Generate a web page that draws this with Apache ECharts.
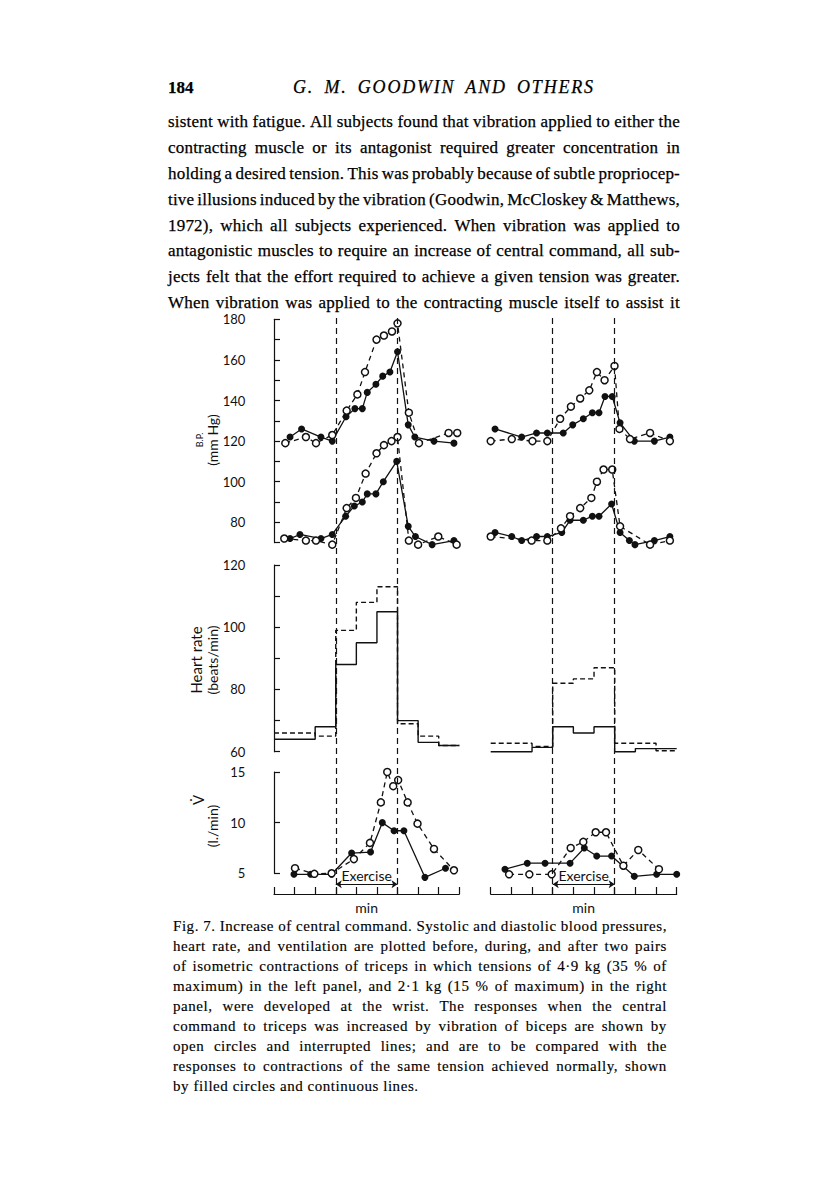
<!DOCTYPE html>
<html>
<head>
<meta charset="utf-8">
<script src="https://cdn.jsdelivr.net/npm/echarts@6/dist/echarts.min.js"></script>
<style>
  html, body { margin: 0; padding: 0; background: #fff; }
  #page { position: relative; width: 816px; height: 1190px; overflow: hidden; background: #fff; }
  #chart { position: absolute; left: 0; top: 0; width: 816px; height: 1190px; }
  .ln { position: absolute; display: flex; justify-content: space-between; white-space: nowrap;
        color: #000; font-family: "Liberation Serif", "Times New Roman", serif;
        -webkit-text-stroke: 0.25px #000; }
</style>
</head>
<body>
<div id="page">
  <div id="chart"></div>
  <div id="text"></div>
</div>
<script>
// page text
const pageNumber = '184'
const runningHead = 'G. M. GOODWIN AND OTHERS'
const bodyLines = [
  'sistent with fatigue. All subjects found that vibration applied to either the',
  'contracting muscle or its antagonist required greater concentration in',
  'holding a desired tension. This was probably because of subtle propriocep-',
  'tive illusions induced by the vibration (Goodwin, McCloskey & Matthews,',
  '1972), which all subjects experienced. When vibration was applied to',
  'antagonistic muscles to require an increase of central command, all sub-',
  'jects felt that the effort required to achieve a given tension was greater.',
  'When vibration was applied to the contracting muscle itself to assist it',
]
const captionLines = [
  'Fig. 7. Increase of central command. Systolic and diastolic blood pressures,',
  'heart rate, and ventilation are plotted before, during, and after two pairs',
  'of isometric contractions of triceps in which tensions of 4·9 kg (35 % of',
  'maximum) in the left panel, and 2·1 kg (15 % of maximum) in the right',
  'panel, were developed at the wrist. The responses when the central',
  'command to triceps was increased by vibration of biceps are shown by',
  'open circles and interrupted lines; and are to be compared with the',
  'responses to contractions of the same tension achieved normally, shown',
  'by filled circles and continuous lines.',
]

// x = minutes from start of record, exercise from 3 to 6 min
const exercise = [3, 6]

// left panel, B.P. (mm Hg)
const lSysFilledX = [0.78, 1.34, 2.28, 2.83, 3.5, 3.93, 4.29, 4.53, 4.95, 5.28, 5.63, 6.0, 6.52, 6.84, 7.77, 8.74]
const lSysFilledY = [122, 126, 122, 120, 132, 136, 136, 144, 148, 152, 154, 164, 128, 122, 120, 119]
const lSysOpenX = [0.55, 1.55, 2.04, 2.83, 3.53, 4.05, 4.42, 4.98, 5.34, 5.73, 6.0, 6.55, 7.04, 8.48, 8.9]
const lSysOpenY = [119, 122, 119, 123, 135, 143, 154, 170, 172, 174, 178, 134, 119, 124, 124]
const lDiaFilledX = [0.78, 1.26, 2.28, 2.83, 3.48, 3.9, 4.29, 4.53, 4.95, 5.31, 5.96, 6.52, 6.87, 7.68, 8.74]
const lDiaFilledY = [72, 74, 72, 74, 83, 88, 90, 94, 94, 100, 110, 78, 73, 69, 71]
const lDiaOpenX = [0.5, 1.55, 2.04, 2.83, 3.53, 3.98, 4.45, 4.98, 5.34, 5.71, 6.0, 6.55, 7.0, 7.98, 8.87]
const lDiaOpenY = [72, 71, 71, 69, 87, 92, 104, 114, 118, 120, 122, 71, 69, 73, 69]

// right panel, B.P.
const rSysFilledX = [0.21, 1.5, 2.22, 2.74, 3.51, 3.97, 4.48, 4.92, 5.24, 5.53, 5.88, 6.26, 6.95, 7.92, 8.67]
const rSysFilledY = [126, 122, 124, 124, 124, 128, 131, 134, 134, 142, 142, 129, 120, 120, 122]
const rSysOpenX = [0.0, 1.02, 2.02, 2.74, 3.36, 3.88, 4.33, 4.77, 5.14, 5.51, 5.99, 6.23, 6.74, 7.71, 8.67]
const rSysOpenY = [120, 121, 120, 120, 131, 137, 141, 145, 154, 150, 157, 126, 121, 124, 120]
const rDiaFilledX = [0.21, 1.02, 1.5, 2.22, 2.74, 3.44, 3.84, 4.48, 4.92, 5.24, 5.85, 6.26, 6.71, 6.98, 7.92, 8.67]
const rDiaFilledY = [75, 73, 71, 73, 73, 75, 81, 81, 83, 83, 89, 75, 71, 69, 71, 73]
const rDiaOpenX = [0.0, 1.98, 2.74, 3.4, 3.84, 4.33, 4.87, 5.14, 5.46, 5.88, 6.26, 7.71, 8.67]
const rDiaOpenY = [73, 71, 71, 77, 83, 87, 92, 100, 106, 106, 78, 69, 71]

// heart rate (beats/min), one value per interval between edges
const hrEdges = [0, 2, 3, 4, 5, 6, 7, 8, 9]
const lHrSolid = [64, 68, 88, 95, 105, 70, 63, 62]
const lHrDashed = [66, 65, 99, 108, 113, 69, 65, 62]
const rHrSolid = [60, 61.4, 68, 66, 68, 60, 61, 61]
const rHrDashed = [62.7, 61.7, 82, 83.4, 87, 62.7, 62.7, 60.3]

// ventilation (l./min)
const lVFilledX = [0.97, 1.78, 2.8, 3.77, 4.69, 5.26, 5.83, 6.31, 7.33, 8.33]
const lVFilledY = [4.9, 4.9, 4.9, 7.0, 7.1, 10.0, 9.2, 9.2, 4.6, 5.5]
const lVOpenX = [1.02, 1.96, 2.8, 3.88, 4.66, 5.19, 5.5, 5.79, 6.03, 6.49, 6.97, 7.77, 8.74]
const lVOpenY = [5.5, 4.95, 5.0, 6.4, 8.0, 12.0, 15.0, 13.6, 14.2, 12.0, 9.9, 7.4, 5.3]
const rVFilledX = [0.69, 1.77, 2.63, 3.84, 4.53, 5.13, 5.85, 6.95, 8.03, 9.0]
const rVFilledY = [5.4, 6.0, 6.0, 6.0, 7.5, 6.7, 6.7, 4.7, 4.9, 4.9]
const rVOpenX = [0.89, 1.87, 2.95, 3.87, 4.48, 5.08, 5.58, 6.42, 7.14, 8.14]
const rVOpenY = [4.9, 4.9, 4.9, 7.5, 8.1, 9.05, 9.05, 5.75, 7.3, 5.4]

// ---------- page text ----------
const textRoot = document.getElementById('text')

function addLine(str, opts) {
  const d = document.createElement('div')
  d.className = 'ln'
  d.style.left = opts.left + 'px'
  d.style.width = opts.width + 'px'
  d.style.fontSize = opts.size + 'px'
  d.style.lineHeight = (opts.size * 1.2) + 'px'
  d.style.top = (opts.cy - opts.size * 0.71) + 'px'
  if (opts.italic) d.style.fontStyle = 'italic'
  if (opts.bold) d.style.fontWeight = 'bold'
  if (opts.spacing) d.style.letterSpacing = opts.spacing + 'px'
  if (opts.wordSpacing) d.style.wordSpacing = opts.wordSpacing + 'px'
  if (opts.stroke !== undefined) d.style.webkitTextStroke = opts.stroke + 'px #000'
  if (opts.justify) {
    str.split(' ').forEach(w => {
      const s = document.createElement('span')
      s.textContent = w
      d.appendChild(s)
    })
  } else {
    d.style.justifyContent = 'flex-start'
    d.textContent = str
  }
  textRoot.appendChild(d)
}

addLine(pageNumber, { left: 168, width: 40, size: 17, cy: 90, bold: true })
addLine(runningHead, { left: 293, width: 320, size: 18, cy: 90, italic: true, spacing: 1.8, wordSpacing: 4 })
bodyLines.forEach((t, i) => {
  addLine(t, { left: 168, width: 512, size: 17, cy: 124 + i * 25.9, spacing: 0.2, justify: true })
})
captionLines.forEach((t, i) => {
  addLine(t, { left: 173, width: 494, size: 15, cy: 928 + i * 20, spacing: 0.55, stroke: 0.15,
               justify: i < captionLines.length - 1 })
})

// ---------- chart ----------
const ink = '#111'
const axisFont = 'Lato'
const pairs = (xs, ys) => xs.map((x, i) => [x, ys[i]])
const steps = (edges, vals) => edges.map((x, i) => [x, vals[Math.min(i, vals.length - 1)]])

const grids = []
const xAxes = []
const yAxes = []
const series = []

// panels: left ones keep one minute of room for the y axis
const leftBox = { left: 253.4, width: 205.9, xmin: -1 }
const rightBox = { left: 490.7, width: 186, xmin: 0 }
const rows = {
  bp: { top: 319.3, height: 223.3, min: 70, max: 180, interval: 10, labelStep: 20 },
  hr: { top: 565, height: 186.7, min: 60, max: 120, interval: 10, labelStep: 20 },
  v: { top: 772, height: 101.3, min: 5, max: 15, interval: 5, labelStep: 5 },
}

function addPanel(box, row, showY) {
  const i = grids.length
  grids.push({ left: box.left, top: row.top, width: box.width, height: row.height })
  xAxes.push({ gridIndex: i, type: 'value', min: box.xmin, max: 9, show: false })
  yAxes.push({
    gridIndex: i, type: 'value', min: row.min, max: row.max, interval: row.interval, show: showY,
    axisLine: { show: true, lineStyle: { color: ink, width: 1.2 } },
    axisTick: { show: true, inside: true, length: 6, lineStyle: { color: ink, width: 1.2 } },
    axisLabel: {
      margin: 8, color: ink, fontFamily: axisFont, fontSize: 13,
      formatter: v => (v % row.labelStep === 0 ? String(v) : ''),
    },
    splitLine: { show: false },
  })
  return i
}

function dots(gi, data, open) {
  return {
    type: 'line', xAxisIndex: gi, yAxisIndex: gi, data, clip: false,
    symbol: 'circle', symbolSize: 7, animation: false, silent: true,
    lineStyle: { color: ink, width: 1.3, type: open ? [5, 4] : 'solid' },
    itemStyle: open ? { color: '#fff', borderColor: ink, borderWidth: 1.5 } : { color: ink },
    z: open ? 4 : 3,
  }
}

function stepLine(gi, data, dashed) {
  return {
    type: 'line', xAxisIndex: gi, yAxisIndex: gi, data, step: 'end', clip: false,
    symbol: 'none', animation: false, silent: true,
    lineStyle: { color: ink, width: 1.4, type: dashed ? [5, 3] : 'solid' },
  }
}

function addTimeAxis(box) {
  const i = grids.length
  grids.push({ left: box.left, top: 318, width: box.width, height: 576 })
  xAxes.push({
    gridIndex: i, type: 'value', min: 0, max: 9, interval: 1, position: 'bottom',
    axisLine: { lineStyle: { color: ink, width: 1.2 } },
    axisTick: { inside: true, length: 7, lineStyle: { color: ink, width: 1.2 } },
    axisLabel: { show: false },
    splitLine: { show: false },
    name: 'min', nameLocation: 'middle', nameGap: 6,
    nameTextStyle: { fontFamily: axisFont, fontSize: 14, color: ink },
  })
  yAxes.push({ gridIndex: i, type: 'value', min: 0, max: 1, show: false })
  const arrowLevel = 0.017
  series.push({
    type: 'line', xAxisIndex: i, yAxisIndex: i, data: [], silent: true, animation: false,
    markLine: {
      silent: true, animation: false, symbol: 'none',
      label: { show: false },
      lineStyle: { color: ink, width: 1.2, type: [6, 4] },
      data: [
        { xAxis: exercise[0] },
        { xAxis: exercise[1] },
        [
          {
            coord: [exercise[0], arrowLevel], symbol: 'arrow', symbolSize: 6,
            lineStyle: { type: 'solid', width: 1 },
            label: {
              show: true, formatter: 'Exercise', position: 'insideMiddleTop', distance: 2,
              color: ink, fontFamily: axisFont, fontSize: 14,
            },
          },
          { coord: [exercise[1], arrowLevel], symbol: 'arrow', symbolSize: 6 },
        ],
      ],
    },
  })
}

// left panel
const lBp = addPanel(leftBox, rows.bp, true)
const lHr = addPanel(leftBox, rows.hr, true)
const lV = addPanel(leftBox, rows.v, true)
series.push(
  dots(lBp, pairs(lSysFilledX, lSysFilledY), false),
  dots(lBp, pairs(lSysOpenX, lSysOpenY), true),
  dots(lBp, pairs(lDiaFilledX, lDiaFilledY), false),
  dots(lBp, pairs(lDiaOpenX, lDiaOpenY), true),
  stepLine(lHr, steps(hrEdges, lHrSolid), false),
  stepLine(lHr, steps(hrEdges, lHrDashed), true),
  dots(lV, pairs(lVFilledX, lVFilledY), false),
  dots(lV, pairs(lVOpenX, lVOpenY), true),
)
addTimeAxis({ left: 274, width: 185.3 })

// right panel
const rBp = addPanel(rightBox, rows.bp, false)
const rHr = addPanel(rightBox, rows.hr, false)
const rV = addPanel(rightBox, rows.v, false)
series.push(
  dots(rBp, pairs(rSysFilledX, rSysFilledY), false),
  dots(rBp, pairs(rSysOpenX, rSysOpenY), true),
  dots(rBp, pairs(rDiaFilledX, rDiaFilledY), false),
  dots(rBp, pairs(rDiaOpenX, rDiaOpenY), true),
  stepLine(rHr, steps(hrEdges, rHrSolid), false),
  stepLine(rHr, steps(hrEdges, rHrDashed), true),
  dots(rV, pairs(rVFilledX, rVFilledY), false),
  dots(rV, pairs(rVOpenX, rVOpenY), true),
)
addTimeAxis({ left: 490.7, width: 186 })

// rotated axis titles
function vText(text, x, y, size) {
  return {
    type: 'text', x, y, rotation: Math.PI / 2, silent: true,
    style: {
      text, fill: ink, fontFamily: axisFont, fontSize: size,
      align: 'center', verticalAlign: 'middle', textAlign: 'center', textVerticalAlign: 'middle',
    },
  }
}

const chart = echarts.init(document.getElementById('chart'), null, { renderer: 'svg' })
chart.setOption({
  animation: false,
  backgroundColor: 'transparent',
  grid: grids,
  xAxis: xAxes,
  yAxis: yAxes,
  series,
  graphic: [
    vText('B.P.', 199, 440, 9),
    vText('(mm Hg)', 212, 440, 14),
    vText('Heart rate', 196, 660, 15),
    vText('(beats/min)', 212, 660, 14),
    vText('V\u0307', 198, 800, 15),
    vText('(l./min)', 212, 826, 14),
  ],
})
</script>
</body>
</html>
